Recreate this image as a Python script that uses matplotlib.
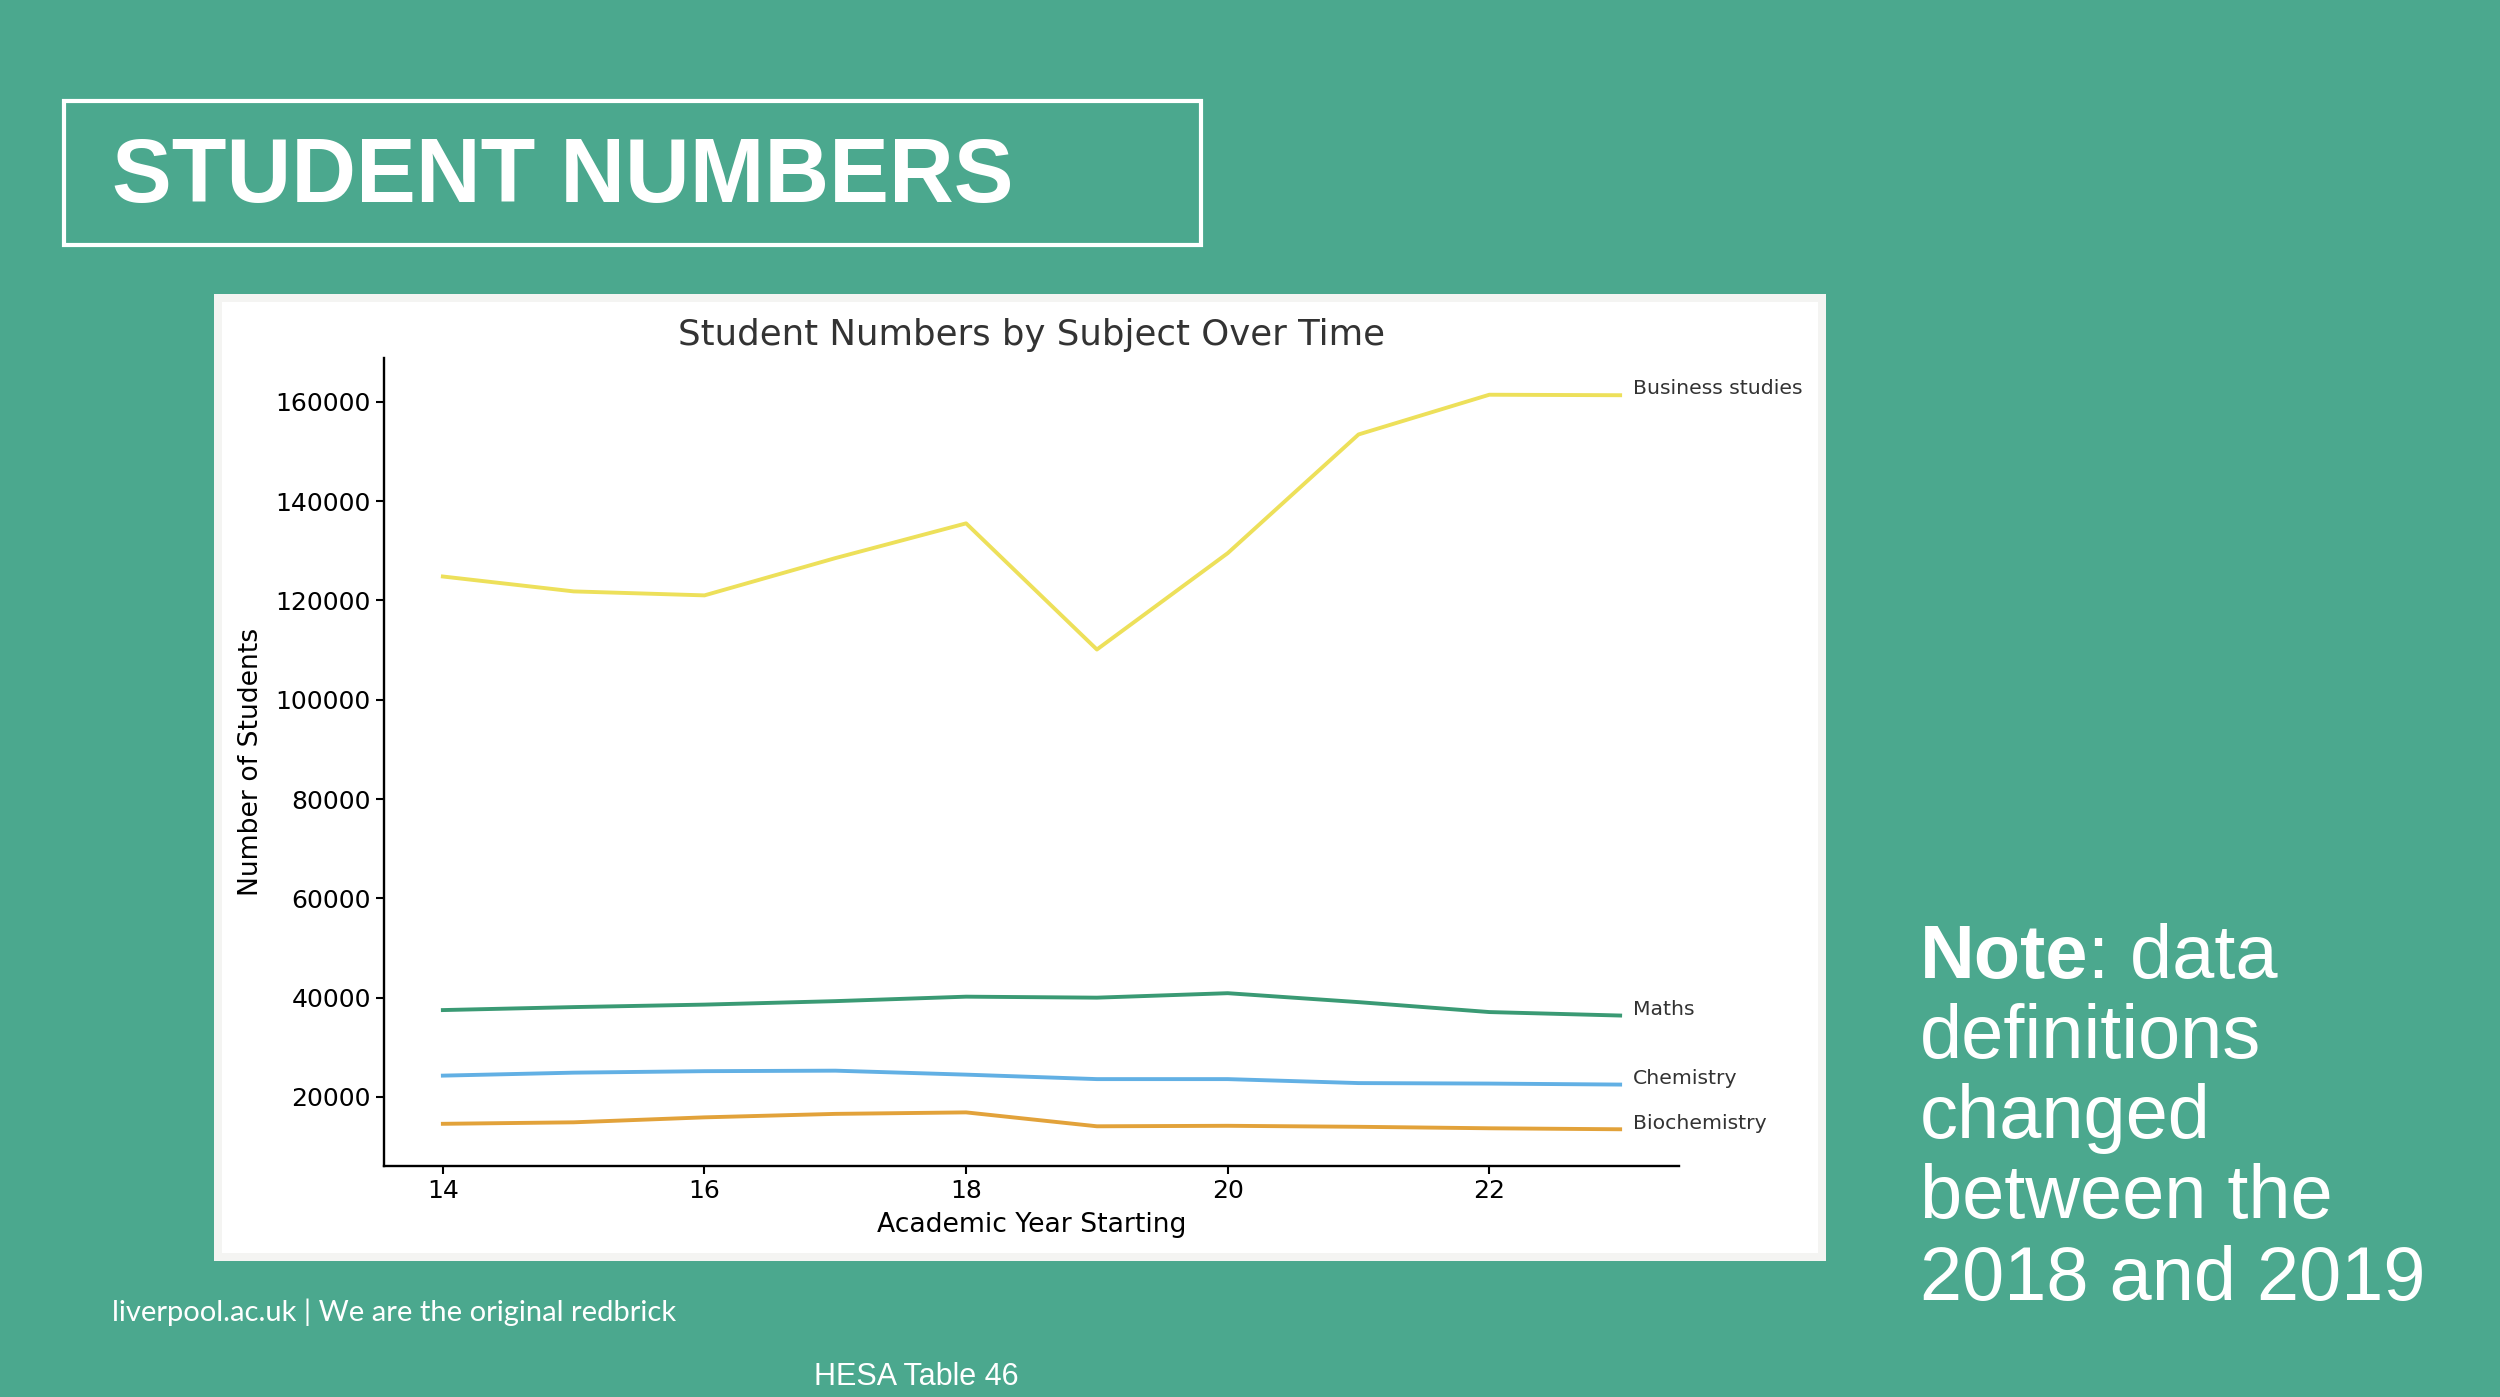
import matplotlib
matplotlib.use('Agg')
import matplotlib.pyplot as plt
from matplotlib.patches import Rectangle

# ---- data ----
years = [14, 15, 16, 17, 18, 19, 20, 21, 22, 23]
business = [124800, 121800, 121000, 128500, 135500, 110100, 129500, 153400, 161400, 161300]
maths = [37500, 38100, 38600, 39300, 40200, 40000, 40900, 39100, 37100, 36400]
chemistry = [24300, 24900, 25200, 25300, 24500, 23600, 23600, 22800, 22700, 22500]
biochemistry = [14600, 14900, 15900, 16600, 16900, 14100, 14200, 14000, 13700, 13500]
series_names = ["Business studies", "Maths", "Chemistry", "Biochemistry"]
series_colors = ["#EDE05A", "#3A9A74", "#62B0E4", "#E2A23A"]

title_text = "STUDENT NUMBERS"
chart_title = "Student Numbers by Subject Over Time"
x_label = "Academic Year Starting"
y_label = "Number of Students"
footer_left = "liverpool.ac.uk | We are the original redbrick"
footer_source = "HESA Table 46"
note_lines = ["definitions", "changed", "between the", "2018 and 2019"]

W, H = 2500, 1397
BG = "#4BA88E"

fig = plt.figure(figsize=(25, 13.97), dpi=100)
fig.patch.set_facecolor(BG)


def fx(p):
    return p / W


def fy(p):
    return 1 - p / H


# title box
fig.add_artist(Rectangle((fx(64), fy(245)), fx(1201) - fx(64), fy(101) - fy(245),
                         transform=fig.transFigure, facecolor='none',
                         edgecolor='white', linewidth=3, zorder=1))
fig.text(fx(112), fy(202), title_text, fontsize=64.5, fontweight='bold',
         color='white', family='Liberation Sans', va='baseline', ha='left')

# white chart panel
fig.add_artist(Rectangle((fx(214), fy(1261)), fx(1826) - fx(214), fy(294) - fy(1261),
                         transform=fig.transFigure, facecolor='#F4F4F2',
                         edgecolor='none', zorder=-2))
fig.add_artist(Rectangle((fx(222), fy(1253)), fx(1818) - fx(222), fy(302) - fy(1253),
                         transform=fig.transFigure, facecolor='white',
                         edgecolor='none', zorder=-1))

ax = fig.add_axes([fx(384), fy(1166), (1679 - 384) / W, (1166 - 358) / H])
ax.set_facecolor('white')

all_series = [business, maths, chemistry, biochemistry]
for vals, name, col in zip(all_series, series_names, series_colors):
    ax.plot(years, vals, color=col, linewidth=2.8)
    ax.annotate(name, xy=(years[-1] + 0.1, vals[-1]), xytext=(0, 4.5),
                textcoords='offset points', va='center', ha='left',
                fontsize=14.7, color='#333333')

ax.set_xticks([14, 16, 18, 20, 22])
ax.spines['top'].set_visible(False)
ax.spines['right'].set_visible(False)
for s in ['left', 'bottom']:
    ax.spines[s].set_linewidth(1.7)
ax.tick_params(direction='out', length=6, width=1.5, labelsize=18, colors='black')
ax.set_title(chart_title, fontsize=25.6, color='#333333', pad=9.5)
ax.set_xlabel(x_label, fontsize=19.2, labelpad=6)
ax.set_ylabel(y_label, fontsize=19.2, labelpad=8.5)

# note text on the right
fig.canvas.draw()
renderer = fig.canvas.get_renderer()
note_size = 54.5
t_bold = fig.text(fx(1920), fy(978), "Note", fontsize=note_size, fontweight='bold',
                  color='white', family='Liberation Sans', va='baseline', ha='left')
bb = t_bold.get_window_extent(renderer=renderer)
fig.text(bb.x1 / W, fy(978), ": data", fontsize=note_size, color='white',
         family='Liberation Sans', va='baseline', ha='left')
baselines = [1058, 1138, 1218, 1300]
for line, b in zip(note_lines, baselines):
    fig.text(fx(1920), fy(b), line, fontsize=note_size, color='white',
             family='Liberation Sans', va='baseline', ha='left')

# footer
fig.text(fx(112), fy(1321), footer_left, fontsize=21, color='white',
         family='Lato', va='baseline', ha='left')
fig.text(fx(814), fy(1385), footer_source, fontsize=22, color='white',
         family='Liberation Sans', va='baseline', ha='left')

fig.savefig('out.png', dpi=100, facecolor=BG)
